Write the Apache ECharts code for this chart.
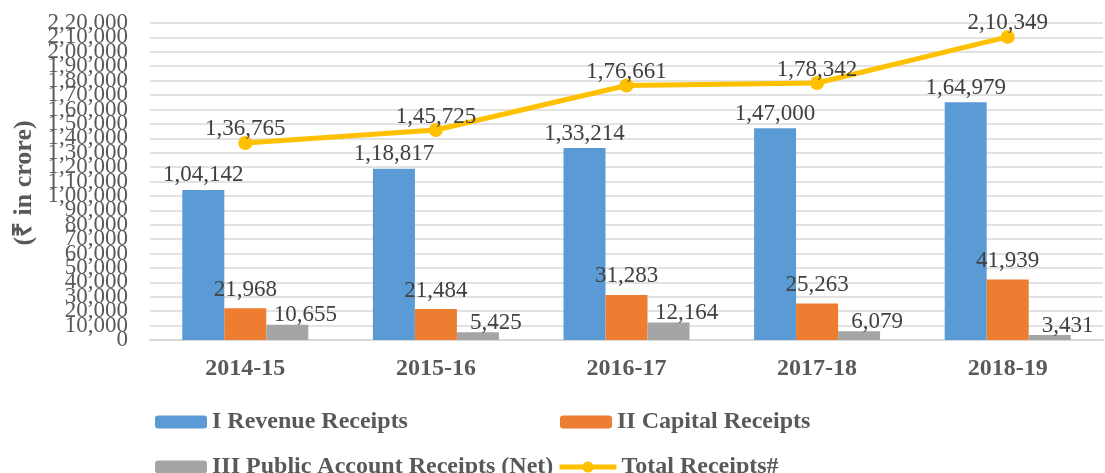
<!DOCTYPE html>
<html>
<head>
<meta charset="utf-8">
<script src="https://cdn.jsdelivr.net/npm/echarts@6/dist/echarts.min.js"></script>
<style>
html,body{margin:0;padding:0;background:#fff;}
#chart{width:1105px;height:473px;}
</style>
</head>
<body>
<div id="chart"></div>
<script>
const categories = ['2014-15', '2015-16', '2016-17', '2017-18', '2018-19'];
const revenueReceipts = [104142, 118817, 133214, 147000, 164979];
const capitalReceipts = [21968, 21484, 31283, 25263, 41939];
const publicAccountReceipts = [10655, 5425, 12164, 6079, 3431];
const totalReceipts = [136765, 145725, 176661, 178342, 210349];
const seriesNames = ['I Revenue Receipts', 'II Capital Receipts', 'III Public Account Receipts (Net)', 'Total Receipts#'];
const yAxisTitle = '(₹ in crore)';
const yTicksEven = [0, 20000, 40000, 60000, 80000, 100000, 120000, 140000, 160000, 180000, 200000, 220000];
const yTicksOdd = [10000, 30000, 50000, 70000, 90000, 110000, 130000, 150000, 170000, 190000, 210000];

function formatIN(n) {
  const s = String(Math.round(n));
  if (s.length <= 3) return s;
  const last3 = s.slice(-3);
  let rest = s.slice(0, -3);
  const parts = [];
  while (rest.length > 2) { parts.unshift(rest.slice(-2)); rest = rest.slice(0, -2); }
  if (rest.length) parts.unshift(rest);
  return parts.join(',') + ',' + last3;
}

const FONT = "'Liberation Serif', 'Times New Roman', serif";
const labelBase = { show: true, position: 'top', color: '#404040', fontSize: 23, fontFamily: FONT, formatter: p => formatIN(p.value) };
const legendText = { color: '#595959', fontSize: 24, fontWeight: 'bold', fontFamily: FONT };
const legendCommon = { itemWidth: 52, itemHeight: 13, padding: 0, textStyle: legendText, selectedMode: false };
const yLabelCommon = { color: '#595959', fontSize: 23, fontFamily: FONT, margin: 22, formatter: v => formatIN(v), hideOverlap: false };

const chart = echarts.init(document.getElementById('chart'), null, { renderer: 'canvas' });
chart.setOption({
  animation: false,
  backgroundColor: '#ffffff',
  grid: { left: 150, right: 2, top: 23, bottom: 133, containLabel: false },
  legend: [
    Object.assign({ data: [seriesNames[0]], left: 155, top: 410 }, legendCommon),
    Object.assign({ data: [seriesNames[1]], left: 560, top: 410 }, legendCommon),
    Object.assign({ data: [seriesNames[2]], left: 155, top: 455 }, legendCommon),
    Object.assign({}, legendCommon, { data: [seriesNames[3]], left: 557, top: 455, itemWidth: 57, itemHeight: 14, lineStyle: { width: 5 } })
  ],
  graphic: [{
    type: 'text', x: 24, y: 183, rotation: Math.PI / 2,
    style: { text: yAxisTitle, fill: '#595959', font: "bold 26px 'Liberation Serif', serif", align: 'center', verticalAlign: 'middle' }
  }],
  xAxis: {
    type: 'category', data: categories,
    axisLine: { show: true, lineStyle: { color: '#d9d9d9', width: 2 } },
    axisTick: { show: false },
    axisLabel: { color: '#595959', fontSize: 24, fontWeight: 'bold', fontFamily: FONT, margin: 17 },
    splitLine: { show: false }
  },
  yAxis: [
    {
      type: 'value', min: 0, max: 220000, interval: 10000, position: 'left',
      axisLine: { show: false }, axisTick: { show: false },
      axisLabel: Object.assign({ customValues: yTicksEven }, yLabelCommon),
      splitLine: { lineStyle: { color: '#d9d9d9', width: 1.5 } }
    },
    {
      type: 'value', min: 0, max: 220000, interval: 10000, position: 'left', offset: 0,
      axisLine: { show: false }, axisTick: { show: false },
      axisLabel: Object.assign({ customValues: yTicksOdd }, yLabelCommon),
      splitLine: { show: false }
    }
  ],
  series: [
    { name: seriesNames[0], type: 'bar', data: revenueReceipts, barWidth: 42, barGap: '0%', itemStyle: { color: '#5B9BD5' }, label: Object.assign({}, labelBase, { distance: 3 }) },
    { name: seriesNames[1], type: 'bar', data: capitalReceipts, barWidth: 42, barGap: '0%', itemStyle: { color: '#ED7D31' }, label: Object.assign({}, labelBase, { distance: 7 }) },
    { name: seriesNames[2], type: 'bar', data: publicAccountReceipts, barWidth: 42, barGap: '0%', itemStyle: { color: '#A5A5A5' }, label: Object.assign({}, labelBase, { distance: -2, offset: [18, 0] }) },
    { name: seriesNames[3], type: 'line', data: totalReceipts, z: 5, symbol: 'circle', symbolSize: 14,
      lineStyle: { color: '#FFC000', width: 5 }, itemStyle: { color: '#FFC000' },
      label: Object.assign({}, labelBase, { distance: -5 }) }
  ]
});
</script>
</body>
</html>
